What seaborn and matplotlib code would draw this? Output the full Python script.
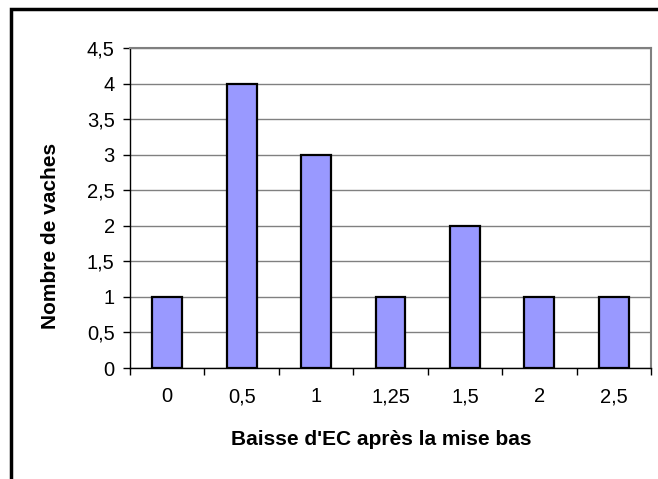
import matplotlib
matplotlib.use('Agg')
import matplotlib.pyplot as plt
import seaborn as sns
import pandas as pd
from matplotlib.patches import Rectangle
from matplotlib.ticker import FixedLocator

# data
categories = ['0', '0,5', '1', '1,25', '1,5', '2', '2,5']
vaches = [1, 4, 3, 1, 2, 1, 1]
y_ticks = [0, 0.5, 1, 1.5, 2, 2.5, 3, 3.5, 4, 4.5]
y_tick_labels = ['0', '0,5', '1', '1,5', '2', '2,5', '3', '3,5', '4', '4,5']

df = pd.DataFrame({'baisse': categories, 'n': vaches})

sns.set_style('white')
plt.rcParams['font.family'] = ['Liberation Sans', 'DejaVu Sans']
plt.rcParams['text.color'] = 'black'
plt.rcParams['axes.labelcolor'] = 'black'
plt.rcParams['xtick.color'] = 'black'
plt.rcParams['ytick.color'] = 'black'

fig = plt.figure(figsize=(6.58, 4.79), dpi=100)
ax = fig.add_axes([130 / 658, 1 - 368 / 479, 521 / 658, 320 / 479])

sns.barplot(data=df, x='baisse', y='n', order=categories, color='#9999FF',
            edgecolor='black', linewidth=1.6, width=0.4, saturation=1, ax=ax, zorder=3)

ax.set_ylim(0, 4.5)
ax.set_xlim(-0.5, len(categories) - 0.5)
ax.set_yticks(y_ticks)
ax.set_yticklabels(y_tick_labels, fontsize=14.5)
ax.tick_params(axis='x', which='major', length=0, pad=14, labelsize=14.5)
ax.xaxis.set_minor_locator(FixedLocator([i - 0.5 for i in range(len(categories) + 1)]))
ax.tick_params(axis='x', which='minor', length=5, width=1, color='black', bottom=True)
ax.tick_params(axis='y', length=5, width=1, color='black', left=True, pad=6)

ax.yaxis.grid(True, color='#808080', linewidth=1, zorder=0)
ax.set_axisbelow(True)

for s in ['top', 'right']:
    ax.spines[s].set_color('#808080')
    ax.spines[s].set_linewidth(1.5)
for s in ['left', 'bottom']:
    ax.spines[s].set_color('black')
    ax.spines[s].set_linewidth(1)

ax.set_xlabel("Baisse d'EC après la mise bas", fontsize=15, fontweight='bold')
ax.set_ylabel('Nombre de vaches', fontsize=15, fontweight='bold')
ax.xaxis.set_label_coords(0.482, -0.195)
ax.yaxis.set_label_coords(-0.134, 0.4125)

# outer chart border (Excel style)
fig.patches.append(Rectangle((11 / 658, -0.1), 1.2, 1 - 9 / 479 + 0.1,
                             transform=fig.transFigure, fill=False,
                             edgecolor='black', linewidth=2.5))

fig.savefig('out.png', dpi=100)
